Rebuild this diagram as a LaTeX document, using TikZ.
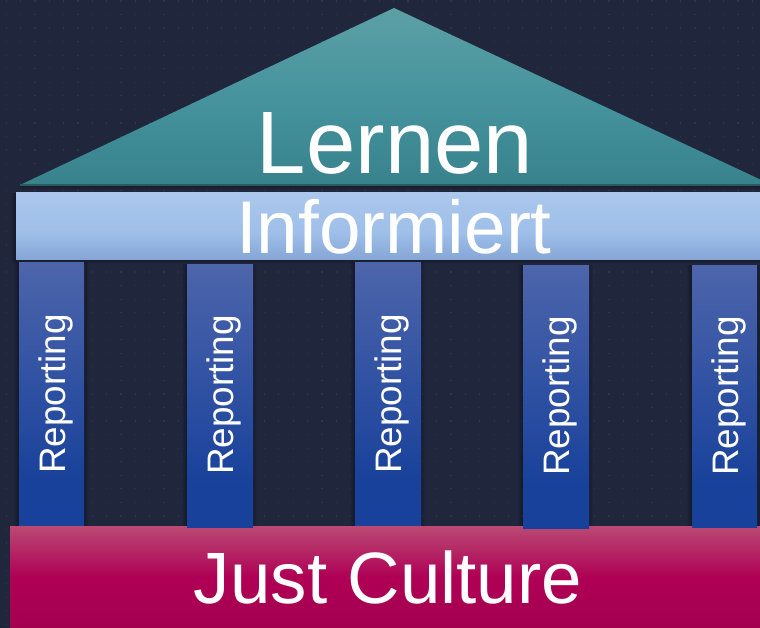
\documentclass[tikz,border=0pt]{standalone}
\usepackage{fontspec}
\setmainfont{Liberation Sans}
\definecolor{bgC}{RGB}{32,39,61}
\definecolor{dotC}{RGB}{46,53,75}
\definecolor{tealA}{RGB}{92,160,166}
\definecolor{tealB}{RGB}{68,146,156}
\definecolor{tealC}{RGB}{56,130,140}
\definecolor{paleA}{RGB}{171,199,236}
\definecolor{paleB}{RGB}{158,191,233}
\definecolor{paleC}{RGB}{134,167,214}
\definecolor{colA}{RGB}{77,101,171}
\definecolor{colC}{RGB}{24,65,155}
\definecolor{baseA}{RGB}{186,74,116}
\definecolor{baseB}{RGB}{175,0,85}
\definecolor{baseC}{RGB}{163,0,80}
\pgfdeclareverticalshading{tealsh}{100bp}{color(0bp)=(tealC);color(25bp)=(tealC);color(47bp)=(tealB);color(75bp)=(tealA);color(100bp)=(tealA)}
\pgfdeclareverticalshading{palesh}{100bp}{color(0bp)=(paleC);color(25bp)=(paleC);color(45bp)=(paleB);color(75bp)=(paleA);color(100bp)=(paleA)}
\pgfdeclareverticalshading{colsh}{100bp}{color(0bp)=(colC);color(25bp)=(colC);color(33bp)=(colC);color(75bp)=(colA);color(100bp)=(colA)}
\pgfdeclareverticalshading{basesh}{100bp}{color(0bp)=(baseC);color(25bp)=(baseC);color(50bp)=(baseB);color(75bp)=(baseA);color(100bp)=(baseA)}
\tikzset{
  x=1bp,y=-1bp,
  panel/.style={anchor=north west,inner sep=0pt,outer sep=0pt,minimum width=#1},
  pillar/.style={panel=65bp,minimum height=263bp,shading=colsh},
  pillartext/.style={rotate=90,text=white,font=\fontsize{37}{37}\selectfont,inner sep=0pt},
  softshadow/.style={fill=black,fill opacity=0.06,draw=none},
  dotmark/.style={fill=dotC,draw=none},
}
\begin{document}
\begin{tikzpicture}
\useasboundingbox (0,0) rectangle (760,628);
\clip (0,0) rectangle (760,628);
\fill[bgC] (0,0) rectangle (760,628);
\foreach \i in {0,...,52}{
  \foreach \j in {0,...,46}{
    \fill[dotmark] ({6.2+14.35*\i-0.6},{1+13.55*\j-0.6}) rectangle ++(1.2,1.2);
  }
}
% shadows
\foreach \d in {1,2,3,4,5}{
  \fill[softshadow] (20,{185+\d}) -- (772,{185+\d}) -- (772,185) -- (20,185) -- cycle;
  \fill[softshadow] ({16-\d},193) rectangle (760,{259+\d});
  \foreach \x/\t/\b in {19/262/525,187/264/527,355/262/525,523/265/528,692/265/527}{
    \fill[softshadow] ({\x-\d},\t) rectangle ({\x+65+\d},{\b+\d});
  }
}
\shade[shading=tealsh] (394,8) -- (772,185) -- (20,185) -- cycle;
\fill[black!30!tealC] (20,184.2) -- (772,184.2) -- (772,185.6) -- (20,185.6) -- cycle;
\node[anchor=base,text=white,inner sep=0pt,font=\fontsize{89}{89}\selectfont] (lernen) at (395,174) {Lernen};
\node[panel=744bp,minimum height=66bp,shading=palesh] (informiert) at (16,193) {};
\node[anchor=base,text=white,inner sep=0pt,font=\fontsize{75}{75}\selectfont] (informierttext) at (394,253) {Informiert};
\node[panel=750bp,minimum height=102bp,shading=basesh] (base) at (10,526) {};
\node[pillar] (p1) at (19,262) {};
\node[pillar,panel=66bp] (p2) at (187,264) {};
\node[pillar,panel=66bp] (p3) at (355,262) {};
\node[pillar,panel=66bp] (p4) at (523,265) {};
\node[pillar,minimum height=262bp] (p5) at (692,265) {};
\node[pillartext] (r1) at (55.5,394) {Reporting};
\node[pillartext] (r2) at (224,395) {Reporting};
\node[pillartext] (r3) at (392,394) {Reporting};
\node[pillartext] (r4) at (560,396) {Reporting};
\node[pillartext] (r5) at (728.5,396) {Reporting};
\node[anchor=base,text=white,inner sep=0pt,font=\fontsize{73}{73}\selectfont] (just) at (388,603) {Just Culture};
\end{tikzpicture}
\end{document}
